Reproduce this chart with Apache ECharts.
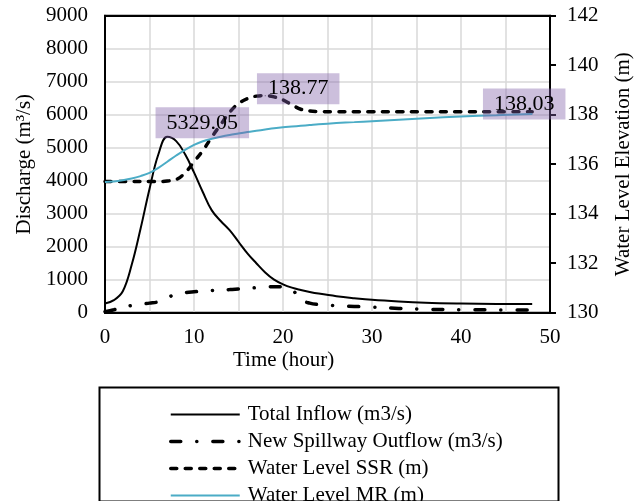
<!DOCTYPE html>
<html>
<head>
<meta charset="utf-8">
<script src="https://cdn.jsdelivr.net/npm/echarts@6/dist/echarts.min.js"></script>
<style>html,body{margin:0;padding:0;background:#fff}#c{width:643px;height:501px}</style>
</head>
<body>
<div id="c"></div>
<script>
// Time (hour)
const hours = [0,1,2,3,4,5,6,7,8,9,10,11,12,13,14,15,16,17,18,19,20,21,22,23,24,26,28,30,33,36,40,44,48];
// Total Inflow (m3/s)
const totalInflow = [280,380,650,1450,2550,3750,4800,5329.05,5200,4800,4250,3650,3100,2780,2500,2150,1800,1500,1220,1000,860,760,690,630,580,500,440,390,340,305,280,265,260];
// New Spillway Outflow (m3/s)
const spillwayOutflow = [30,90,160,220,260,290,330,450,570,610,635,655,675,690,700,720,740,760,780,790,780,700,400,290,250,215,190,170,130,105,90,85,80];
// Water Level SSR (m)
const levelSSR = [135.3,135.3,135.3,135.3,135.3,135.3,135.3,135.32,135.38,135.65,136.1,136.55,137.1,137.6,138.1,138.45,138.65,138.75,138.77,138.72,138.6,138.4,138.22,138.15,138.13,138.12,138.12,138.12,138.12,138.12,138.12,138.12,138.12];
// Water Level MR (m)
const levelMR = [135.28,135.3,135.35,135.42,135.52,135.65,135.85,136.1,136.35,136.58,136.78,136.93,137.03,137.11,137.18,137.24,137.3,137.35,137.4,137.45,137.49,137.52,137.55,137.58,137.61,137.66,137.7,137.74,137.8,137.86,137.93,137.98,138.03];
const seriesNames = ['Total Inflow (m3/s)','New Spillway Outflow (m3/s)','Water Level SSR (m)','Water Level MR (m)'];
// labelled points: [series index, hour]
const labelled = [[0,7],[2,18],[3,48]];
const labelOffsets = {0:[35,-14],2:[33,-7],3:[-8,-10]};

const FONT = 'Liberation Serif';
function build(values, si){
  return hours.map((h,i)=>{
    const item = {value:[h, values[i]]};
    if (labelled.some(l=>l[0]===si && l[1]===h)) {
      item.symbol = 'circle';
      item.symbolSize = 1;
      item.label = {
        show:true, position:'inside', offset: labelOffsets[si],
        formatter: String(values[i].toFixed(2)),
        color:'#000', fontFamily:FONT, fontSize:22,
        backgroundColor:'rgba(128,96,168,0.4)', padding:[5,11,4,11]
      };
    }
    return item;
  });
}
const plain = v => String(v);

const styles = [
  {color:'#000', width:2},
  {color:'#000', width:3.5, type:[10,16,0.1,16], cap:'round'},
  {color:'#000', width:3.5, type:[6,8.5], cap:'round'},
  {color:'#4bacc6', width:2}
];

const chart = echarts.init(document.getElementById('c'));
const axisLine = {show:true, onZero:false, lineStyle:{color:'#000', width:2}};
chart.setOption({
  animation:false,
  textStyle:{fontFamily:FONT},
  grid:{left:105, right:93, top:15.7, bottom:188.3, show:true, borderColor:'#000', borderWidth:2, backgroundColor:'transparent'},
  xAxis:[{type:'value', min:0, max:50, interval:10,
    axisLine:axisLine, axisTick:{show:false},
    axisLabel:{color:'#000', fontFamily:FONT, fontSize:21, margin:14, formatter:plain},
    splitLine:{show:true, lineStyle:{color:'#d9d9d9', width:1.5}},
    minorTick:{show:false, splitNumber:2},
    minorSplitLine:{show:true, lineStyle:{color:'#d9d9d9', width:1.5}}
  },{type:'value', position:'top', min:0, max:50, interval:10,
    axisLine:axisLine, axisTick:{show:false}, axisLabel:{show:false}, splitLine:{show:false}}],
  yAxis:[
    {type:'value', min:0, max:9000, interval:1000, position:'left',
      name:'Discharge (m³/s)', nameLocation:'middle', nameRotate:90, nameGap:70,
      nameTextStyle:{color:'#000', fontFamily:FONT, fontSize:21},
      axisLine:axisLine, axisTick:{show:false},
      axisLabel:{color:'#000', fontFamily:FONT, fontSize:21, margin:17, formatter:plain},
      splitLine:{show:true, lineStyle:{color:'#d9d9d9', width:1.5}}
    },
    {type:'value', min:130, max:142, interval:2, position:'right',
      name:'Water Level Elevation (m)', nameLocation:'middle', nameRotate:90, nameGap:63,
      nameTextStyle:{color:'#000', fontFamily:FONT, fontSize:21},
      axisLine:axisLine, axisTick:{show:true, inside:false, length:6, lineStyle:{color:'#000', width:2}},
      axisLabel:{color:'#000', fontFamily:FONT, fontSize:21, margin:17, formatter:plain},
      splitLine:{show:false}
    }
  ],
  legend:{orient:'vertical', left:164, top:399, height:130, itemWidth:69, itemHeight:14, itemGap:6,
    itemStyle:{opacity:0, borderWidth:0},
    textStyle:{color:'#000', fontFamily:FONT, fontSize:21, padding:[0,0,0,3]},
    data:seriesNames.map((n,i)=>({name:n, lineStyle:styles[i]}))},
  graphic:[
    {type:'rect', left:97, top:385, shape:{width:459, height:114}, style:{fill:'none', stroke:'#000', lineWidth:2}, z:-1},
    {type:'text', left:233, top:350, style:{text:'Time (hour)', font:'21px "Liberation Serif"', fill:'#000'}}
  ],
  series:seriesNames.map((n,i)=>({
    name:n, type:'line', xAxisIndex:0, yAxisIndex: i<2 ? 0 : 1, smooth:0.4, symbol:'none',
    data:build([totalInflow, spillwayOutflow, levelSSR, levelMR][i], i),
    lineStyle:styles[i], itemStyle:{color:styles[i].color}
  }))
});
</script>
</body>
</html>
